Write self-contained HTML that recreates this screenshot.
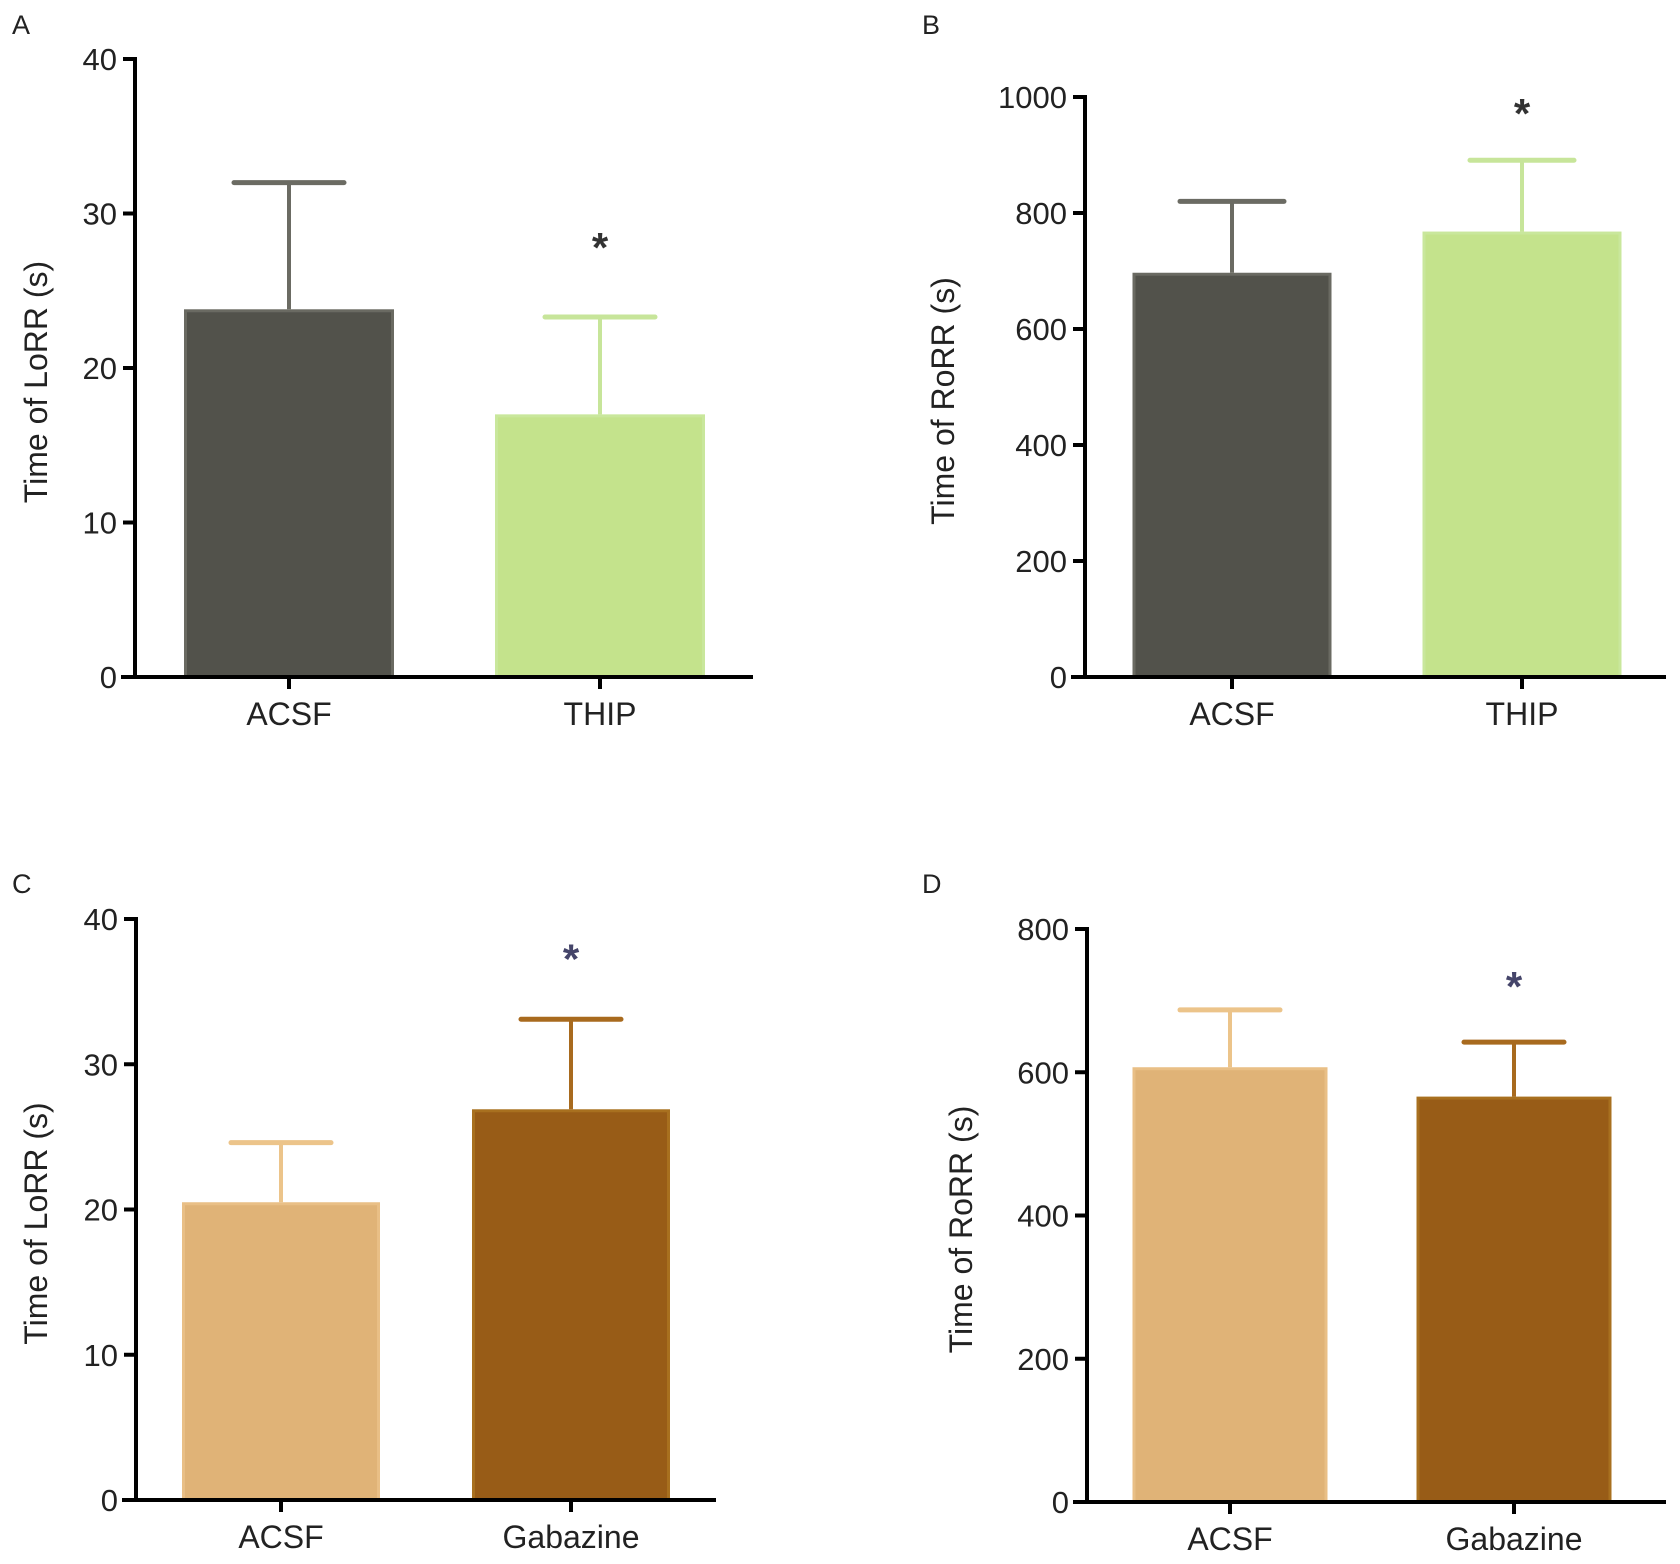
<!DOCTYPE html>
<html><head><meta charset="utf-8">
<style>
html,body{margin:0;padding:0;background:#fff;}
svg{display:block;font-family:"Liberation Sans",Arial,sans-serif;}
</style></head>
<body>
<svg id="fig" width="1680" height="1564" viewBox="0 0 1680 1564" xmlns="http://www.w3.org/2000/svg"></svg>
<script>
// Panel data
const catsA = ["ACSF", "THIP"];
const meanA = [23.8, 17.0];
const errA = [32.0, 23.3];
const ticksA = [0, 10, 20, 30, 40];

const catsB = ["ACSF", "THIP"];
const meanB = [697, 768];
const errB = [820, 891];
const ticksB = [0, 200, 400, 600, 800, 1000];

const catsC = ["ACSF", "Gabazine"];
const meanC = [20.5, 26.9];
const errC = [24.6, 33.1];
const ticksC = [0, 10, 20, 30, 40];

const catsD = ["ACSF", "Gabazine"];
const meanD = [607, 566];
const errD = [687, 642];
const ticksD = [0, 200, 400, 600, 800];

// significance star heights (in data units); null = no star
const starA = [null, 28.4];
const starB = [null, 988];
const starC = [null, 37.9];
const starD = [null, 733];

const NS = "http://www.w3.org/2000/svg";
const svg = document.getElementById("fig");
function mk(tag, attrs, parent) {
  const e = document.createElementNS(NS, tag);
  for (const k in attrs) e.setAttribute(k, attrs[k]);
  (parent || svg).appendChild(e);
  return e;
}

const panels = [
  {letter:"A", lx:12, ly:34, ax:135, top:59, bot:677, right:753, centers:[289,600], bw:210, cap:110,
   cats:catsA, mean:meanA, err:errA, ticks:ticksA, star:starA, max:40, title:"Time of LoRR (s)", tx:36, starCol:"#333",
   fills:["#52524b","#c4e38c"], strokes:["#6a6a62","#c9e79c"], errCols:["#6b6b63","#c7e59a"]},
  {letter:"B", lx:922, ly:34, ax:1085, top:97, bot:677, right:1666, centers:[1232,1522], bw:199, cap:104,
   cats:catsB, mean:meanB, err:errB, ticks:ticksB, star:starB, max:1000, title:"Time of RoRR (s)", tx:943, starCol:"#333",
   fills:["#52524b","#c4e38c"], strokes:["#6a6a62","#c9e79c"], errCols:["#6b6b63","#c7e59a"]},
  {letter:"C", lx:12, ly:893, ax:136, top:919, bot:1500, right:716, centers:[281,571], bw:198, cap:100,
   cats:catsC, mean:meanC, err:errC, ticks:ticksC, star:starC, max:40, title:"Time of LoRR (s)", tx:36, starCol:"#45456a",
   fills:["#e0b377","#985c17"], strokes:["#e9bf86","#a8701f"], errCols:["#ecc48a","#a86a1e"]},
  {letter:"D", lx:922, ly:893, ax:1087, top:929, bot:1502, right:1666, centers:[1230,1514], bw:195, cap:100,
   cats:catsD, mean:meanD, err:errD, ticks:ticksD, star:starD, max:800, title:"Time of RoRR (s)", tx:961, starCol:"#45456a",
   fills:["#e0b377","#985c17"], strokes:["#e9bf86","#a8701f"], errCols:["#ecc48a","#a86a1e"]}
];

panels.forEach(p => {
  const g = mk("g", {});
  
  
  const y = v => p.bot - (v / p.max) * (p.bot - p.top);

  const lt = mk("text", {x:p.lx, y:p.ly, "font-size":27, fill:"#222"}, g);
  lt.textContent = p.letter;
  
  

  p.cats.forEach((c, i) => {
    const cx = p.centers[i];
    const yt = y(p.mean[i]);
    const ye = y(p.err[i]);
    const eb = mk("g", {}, g);
    
    
    mk("line", {x1:cx, x2:cx, y1:yt, y2:ye, stroke:p.errCols[i], "stroke-width":4}, eb);
    mk("line", {x1:cx - p.cap/2, x2:cx + p.cap/2, y1:ye, y2:ye, stroke:p.errCols[i], "stroke-width":5, "stroke-linecap":"round"}, eb);
    const r = mk("rect", {x:cx - p.bw/2 + 1.5, y:yt + 1.5, width:p.bw - 3, height:p.bot - yt - 1.5,
      fill:p.fills[i], stroke:p.strokes[i], "stroke-width":3}, g);
    
    
    if (p.star[i] !== null) {
      const s = mk("text", {x:cx, y:y(p.star[i]) + 24, "font-size":42, "font-weight":"bold", "text-anchor":"middle", fill:p.starCol}, g);
      s.textContent = "*";
      
      
    }
    mk("line", {x1:cx, x2:cx, y1:p.bot, y2:p.bot + 12, stroke:"#000", "stroke-width":4}, g);
    const xl = mk("text", {x:cx, y:p.bot + 48, "font-size":32, "text-anchor":"middle", fill:"#222"}, g);
    xl.textContent = c;
    
    
  });

  const ya = mk("line", {x1:p.ax, x2:p.ax, y1:p.top - 2, y2:p.bot + 2, stroke:"#000", "stroke-width":4}, g);
  
  
  const xa = mk("line", {x1:p.ax - 14, x2:p.right, y1:p.bot, y2:p.bot, stroke:"#000", "stroke-width":4}, g);
  
  
  p.ticks.forEach(t => {
    const ty = y(t);
    mk("line", {x1:p.ax - 12, x2:p.ax, y1:ty, y2:ty, stroke:"#000", "stroke-width":4}, g);
    const tl = mk("text", {x:p.ax - 18, y:ty + 11, "font-size":31, "text-anchor":"end", fill:"#222"}, g);
    tl.textContent = t;
    
    
  });
  const my = (p.top + p.bot) / 2 + 14;
  const at = mk("text", {x:p.tx, y:my, "font-size":32, "text-anchor":"middle", fill:"#222",
    transform:"rotate(-90 " + p.tx + " " + my + ")", dy:11}, g);
  at.textContent = p.title;
  
  
});
</script>
</body></html>
